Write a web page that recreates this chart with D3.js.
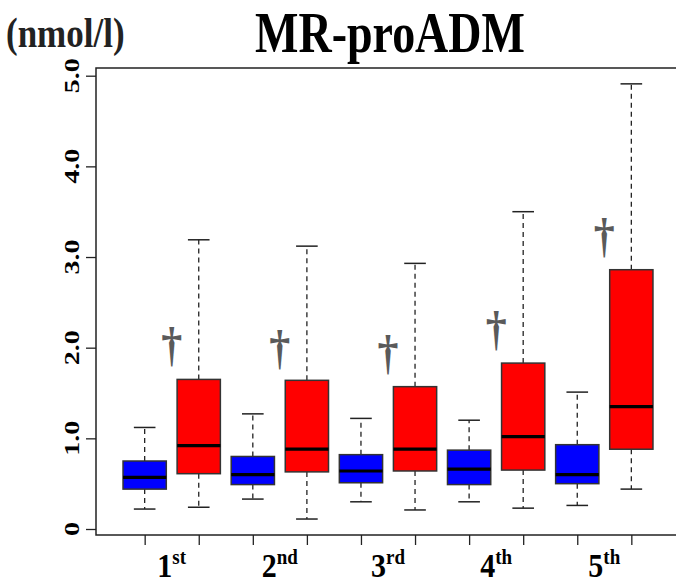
<!DOCTYPE html>
<html>
<head>
<meta charset="utf-8">
<script src="https://cdn.jsdelivr.net/npm/d3@7"></script>
<style>
	body { margin: 0; background: #fff; }
	text { font-family: "Liberation Serif", "DejaVu Serif", serif; font-weight: bold; }
</style>
</head>
<body>
<div id="chart"></div>
<script>
/* data */
const groupNums = ["1", "2", "3", "4", "5"];
const groupSuffix = ["st", "nd", "rd", "th", "th"];
const yTicks = [0, 1, 2, 3, 4, 5];
const yTickLabels = ["0", "1.0", "2.0", "3.0", "4.0", "5.0"];

// blue series (low whisker, Q1, median, Q3, high whisker)
const blueLow = [0.22, 0.33, 0.30, 0.30, 0.26];
const blueQ1 = [0.44, 0.49, 0.51, 0.49, 0.50];
const blueMed = [0.57, 0.60, 0.64, 0.66, 0.60];
const blueQ3 = [0.75, 0.80, 0.82, 0.87, 0.93];
const blueHigh = [1.12, 1.27, 1.22, 1.20, 1.51];

// red series
const redLow = [0.24, 0.11, 0.21, 0.23, 0.44];
const redQ1 = [0.61, 0.63, 0.64, 0.65, 0.88];
const redMed = [0.92, 0.88, 0.88, 1.02, 1.35];
const redQ3 = [1.65, 1.64, 1.57, 1.83, 2.86];
const redHigh = [3.19, 3.12, 2.93, 3.50, 4.91];

// dagger marks (y centre, nmol/l)
const daggerY = [2.01, 1.97, 1.92, 2.18, 3.21];

const C = {
	width: 676,
	height: 584,
	frameL: 96,
	frameR: 680,
	frameT: 68,
	frameB: 535,
	boxW: 0.8,
	capW: 0.4,
	blue: "#0000FF",
	red: "#FF0000"
};

let svg = d3.select("#chart")
	.append("svg")
	.attr("width", C.width)
	.attr("height", C.height)
;

let x = d3.scaleLinear().domain([0.1, 10.9]).range([C.frameL, C.frameR]);
let y = d3.scaleLinear().domain([0, 5]).range([529, 75.7]);

/* build boxes: blue at odd slots, red at even slots */
let boxes = [];
groupNums.forEach((g, i) => {
	boxes.push({pos: 2 * i + 1, fill: C.blue, low: blueLow[i], q1: blueQ1[i], med: blueMed[i], q3: blueQ3[i], high: blueHigh[i]});
	boxes.push({pos: 2 * i + 2, fill: C.red, low: redLow[i], q1: redQ1[i], med: redMed[i], q3: redQ3[i], high: redHigh[i]});
});

let bw = x(C.boxW) - x(0);
let cw = x(C.capW) - x(0);

let gBox = svg.append("g").selectAll("g")
	.data(boxes)
	.enter().append("g")
;
// whiskers
gBox.append("line")
	.attr("x1", (d) => x(d.pos)).attr("x2", (d) => x(d.pos))
	.attr("y1", (d) => y(d.q3)).attr("y2", (d) => y(d.high))
	.attr("stroke", "#222").attr("stroke-width", 1.3).attr("stroke-dasharray", "5,4")
;
gBox.append("line")
	.attr("x1", (d) => x(d.pos)).attr("x2", (d) => x(d.pos))
	.attr("y1", (d) => y(d.q1)).attr("y2", (d) => y(d.low))
	.attr("stroke", "#222").attr("stroke-width", 1.3).attr("stroke-dasharray", "5,4")
;
// caps
gBox.append("line")
	.attr("x1", (d) => x(d.pos) - cw / 2).attr("x2", (d) => x(d.pos) + cw / 2)
	.attr("y1", (d) => y(d.high)).attr("y2", (d) => y(d.high))
	.attr("stroke", "#222").attr("stroke-width", 1.5)
;
gBox.append("line")
	.attr("x1", (d) => x(d.pos) - cw / 2).attr("x2", (d) => x(d.pos) + cw / 2)
	.attr("y1", (d) => y(d.low)).attr("y2", (d) => y(d.low))
	.attr("stroke", "#222").attr("stroke-width", 1.5)
;
// box
gBox.append("rect")
	.attr("x", (d) => x(d.pos) - bw / 2)
	.attr("width", bw)
	.attr("y", (d) => y(d.q3))
	.attr("height", (d) => y(d.q1) - y(d.q3))
	.attr("fill", (d) => d.fill)
	.attr("stroke", "#333").attr("stroke-width", 1.5)
;
// median
gBox.append("line")
	.attr("x1", (d) => x(d.pos) - bw / 2).attr("x2", (d) => x(d.pos) + bw / 2)
	.attr("y1", (d) => y(d.med)).attr("y2", (d) => y(d.med))
	.attr("stroke", "#000").attr("stroke-width", 3.2)
;

/* daggers between each pair */
svg.append("g").selectAll("text")
	.data(daggerY)
	.enter().append("text")
	.attr("transform", (d, i) => `translate(${x(2 * i + 1.5)},${y(d) + 14}) scale(1,1.15)`)
	.attr("text-anchor", "middle")
	.attr("fill", "#5a5a5a")
	.style("font-size", "42px")
	.text("\u2020")
;

/* frame */
svg.append("rect")
	.attr("x", C.frameL).attr("y", C.frameT)
	.attr("width", C.frameR - C.frameL).attr("height", C.frameB - C.frameT)
	.attr("fill", "none").attr("stroke", "#222").attr("stroke-width", 1.5)
;

/* y axis */
let yAxis = svg.append("g")
	.attr("transform", `translate(${C.frameL},0)`)
	.call(d3.axisLeft(y).tickValues(yTicks).tickSize(10).tickFormat(""))
;
yAxis.select(".domain").remove();
yAxis.selectAll(".tick line").attr("stroke", "#222").attr("stroke-width", 1.3);
svg.append("g").selectAll("text")
	.data(yTicks)
	.enter().append("text")
	.attr("transform", (d) => `translate(79,${y(d)}) rotate(-90) scale(1.4,1)`)
	.attr("text-anchor", "middle")
	.attr("fill", "#000")
	.style("font-size", "20px")
	.text((d, i) => yTickLabels[i])
;

/* x axis */
let xAxis = svg.append("g")
	.attr("transform", `translate(0,${C.frameB})`)
	.call(d3.axisBottom(x).tickValues(d3.range(1, 11)).tickSize(10).tickFormat(""))
;
xAxis.select(".domain").remove();
xAxis.selectAll(".tick line").attr("stroke", "#222").attr("stroke-width", 1.3);

let xl = svg.append("g").selectAll("text")
	.data(groupNums)
	.enter().append("text")
	.attr("transform", (d, i) => `translate(${x(2 * i + 1.5)},577) scale(1,1.1)`)
	.attr("text-anchor", "middle")
	.attr("fill", "#000")
	.style("font-size", "30px")
;
xl.append("tspan").text((d) => d);
xl.append("tspan")
	.attr("dy", -12)
	.style("font-size", "19px")
	.text((d, i) => groupSuffix[i])
;

/* titles */
svg.append("text")
	.attr("transform", "translate(390,52) scale(1,1.25)")
	.attr("text-anchor", "middle")
	.attr("fill", "#000")
	.style("font-size", "46px")
	.text("MR-proADM")
;
svg.append("text")
	.attr("transform", "translate(6,47) scale(1,1.2)")
	.attr("fill", "#222")
	.style("font-size", "35px")
	.text("(nmol/l)")
;
</script>
</body>
</html>
